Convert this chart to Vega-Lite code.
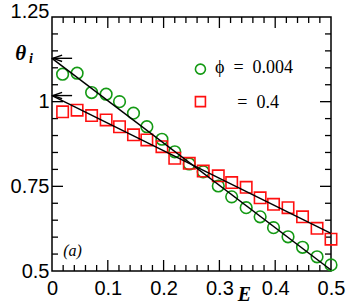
{
  "$schema": "https://vega.github.io/schema/vega-lite/v6.json",
  "width": 279,
  "height": 254,
  "autosize": {"type": "none"},
  "padding": {"left": 52, "top": 17, "right": 17, "bottom": 37},
  "background": "white",
  "config": {
    "view": {"stroke": "#000", "strokeWidth": 1.5},
    "axis": {"domain": false, "ticks": false, "grid": false, "labelFont": "Liberation Sans", "labelFontSize": 20, "labelColor": "#000"}
  },
  "datasets": {
    "pts": [
      {"phi": "0.004", "E": 0.019, "theta": 1.081}, {"phi": "0.004", "E": 0.045, "theta": 1.084},
      {"phi": "0.004", "E": 0.071, "theta": 1.027}, {"phi": "0.004", "E": 0.097, "theta": 1.022},
      {"phi": "0.004", "E": 0.121, "theta": 1.0}, {"phi": "0.004", "E": 0.146, "theta": 0.966},
      {"phi": "0.004", "E": 0.170, "theta": 0.926}, {"phi": "0.004", "E": 0.197, "theta": 0.889},
      {"phi": "0.004", "E": 0.220, "theta": 0.852}, {"phi": "0.004", "E": 0.246, "theta": 0.816},
      {"phi": "0.004", "E": 0.271, "theta": 0.793}, {"phi": "0.004", "E": 0.298, "theta": 0.751},
      {"phi": "0.004", "E": 0.322, "theta": 0.719}, {"phi": "0.004", "E": 0.348, "theta": 0.687},
      {"phi": "0.004", "E": 0.373, "theta": 0.660}, {"phi": "0.004", "E": 0.397, "theta": 0.628},
      {"phi": "0.004", "E": 0.423, "theta": 0.601}, {"phi": "0.004", "E": 0.449, "theta": 0.570},
      {"phi": "0.004", "E": 0.475, "theta": 0.542}, {"phi": "0.004", "E": 0.500, "theta": 0.518},
      {"phi": "0.4", "E": 0.019, "theta": 0.970}, {"phi": "0.4", "E": 0.045, "theta": 0.975},
      {"phi": "0.4", "E": 0.071, "theta": 0.959}, {"phi": "0.4", "E": 0.097, "theta": 0.946},
      {"phi": "0.4", "E": 0.121, "theta": 0.926}, {"phi": "0.4", "E": 0.146, "theta": 0.902},
      {"phi": "0.4", "E": 0.170, "theta": 0.887}, {"phi": "0.4", "E": 0.197, "theta": 0.867},
      {"phi": "0.4", "E": 0.220, "theta": 0.833}, {"phi": "0.4", "E": 0.246, "theta": 0.818},
      {"phi": "0.4", "E": 0.271, "theta": 0.795}, {"phi": "0.4", "E": 0.298, "theta": 0.781},
      {"phi": "0.4", "E": 0.322, "theta": 0.761}, {"phi": "0.4", "E": 0.348, "theta": 0.747},
      {"phi": "0.4", "E": 0.373, "theta": 0.716}, {"phi": "0.4", "E": 0.397, "theta": 0.697},
      {"phi": "0.4", "E": 0.423, "theta": 0.687}, {"phi": "0.4", "E": 0.449, "theta": 0.660},
      {"phi": "0.4", "E": 0.475, "theta": 0.626}, {"phi": "0.4", "E": 0.500, "theta": 0.594}
    ],
    "fits": [
      {"phi": "0.004", "E": 0.0, "theta": 1.128}, {"phi": "0.004", "E": 0.5, "theta": 0.503},
      {"phi": "0.4", "E": 0.0, "theta": 1.018}, {"phi": "0.4", "E": 0.5, "theta": 0.611}
    ],
    "arrows": [
      {"E": 0.002, "E2": 0.036, "theta": 1.128},
      {"E": 0.002, "E2": 0.036, "theta": 1.018}
    ],
    "legend": [
      {"phi": "0.004", "E": 0.266, "theta": 1.096, "label": "ϕ\u2002=\u20020.004", "tx": 0.292, "ty": 1.085},
      {"phi": "0.4", "E": 0.266, "theta": 1.0, "label": "=\u20020.4", "tx": 0.332, "ty": 0.981}
    ],
    "xmajor": [{"v": 0.1}, {"v": 0.2}, {"v": 0.3}, {"v": 0.4}],
    "xminor": [{"v": 0.02}, {"v": 0.04}, {"v": 0.06}, {"v": 0.08}, {"v": 0.12}, {"v": 0.14}, {"v": 0.16}, {"v": 0.18}, {"v": 0.22}, {"v": 0.24}, {"v": 0.26}, {"v": 0.28}, {"v": 0.32}, {"v": 0.34}, {"v": 0.36}, {"v": 0.38}, {"v": 0.42}, {"v": 0.44}, {"v": 0.46}, {"v": 0.48}],
    "ymajor": [{"v": 0.75}, {"v": 1.0}],
    "yminor": [{"v": 0.55}, {"v": 0.6}, {"v": 0.65}, {"v": 0.7}, {"v": 0.8}, {"v": 0.85}, {"v": 0.9}, {"v": 0.95}, {"v": 1.05}, {"v": 1.1}, {"v": 1.15}, {"v": 1.2}],
    "one": [{}]
  },
  "resolve": {"axis": {"x": "independent", "y": "independent"}},
  "layer": [
    {
      "data": {"name": "xmajor"},
      "mark": {"type": "point", "shape": "M0,-1L0,1", "filled": false, "stroke": "#000", "strokeWidth": 1.3, "opacity": 1, "size": 121, "yOffset": -5.5},
      "encoding": {"x": {"field": "v", "type": "quantitative", "axis": null}, "y": {"datum": 0.5, "type": "quantitative", "axis": null}}
    },
    {
      "data": {"name": "xmajor"},
      "mark": {"type": "point", "shape": "M0,-1L0,1", "filled": false, "stroke": "#000", "strokeWidth": 1.3, "opacity": 1, "size": 121, "yOffset": 5.5},
      "encoding": {"x": {"field": "v", "type": "quantitative", "axis": null}, "y": {"datum": 1.25, "type": "quantitative", "axis": null}}
    },
    {
      "data": {"name": "xminor"},
      "mark": {"type": "point", "shape": "M0,-1L0,1", "filled": false, "stroke": "#000", "strokeWidth": 1.3, "opacity": 1, "size": 36, "yOffset": -3},
      "encoding": {"x": {"field": "v", "type": "quantitative", "axis": null}, "y": {"datum": 0.5, "type": "quantitative", "axis": null}}
    },
    {
      "data": {"name": "xminor"},
      "mark": {"type": "point", "shape": "M0,-1L0,1", "filled": false, "stroke": "#000", "strokeWidth": 1.3, "opacity": 1, "size": 36, "yOffset": 3},
      "encoding": {"x": {"field": "v", "type": "quantitative", "axis": null}, "y": {"datum": 1.25, "type": "quantitative", "axis": null}}
    },
    {
      "data": {"name": "ymajor"},
      "mark": {"type": "point", "shape": "M-1,0L1,0", "filled": false, "stroke": "#000", "strokeWidth": 1.3, "opacity": 1, "size": 121, "xOffset": 5.5},
      "encoding": {"y": {"field": "v", "type": "quantitative", "axis": null}, "x": {"datum": 0, "type": "quantitative", "axis": null}}
    },
    {
      "data": {"name": "ymajor"},
      "mark": {"type": "point", "shape": "M-1,0L1,0", "filled": false, "stroke": "#000", "strokeWidth": 1.3, "opacity": 1, "size": 121, "xOffset": -5.5},
      "encoding": {"y": {"field": "v", "type": "quantitative", "axis": null}, "x": {"datum": 0.5, "type": "quantitative", "axis": null}}
    },
    {
      "data": {"name": "yminor"},
      "mark": {"type": "point", "shape": "M-1,0L1,0", "filled": false, "stroke": "#000", "strokeWidth": 1.3, "opacity": 1, "size": 36, "xOffset": 3},
      "encoding": {"y": {"field": "v", "type": "quantitative", "axis": null}, "x": {"datum": 0, "type": "quantitative", "axis": null}}
    },
    {
      "data": {"name": "yminor"},
      "mark": {"type": "point", "shape": "M-1,0L1,0", "filled": false, "stroke": "#000", "strokeWidth": 1.3, "opacity": 1, "size": 36, "xOffset": -3},
      "encoding": {"y": {"field": "v", "type": "quantitative", "axis": null}, "x": {"datum": 0.5, "type": "quantitative", "axis": null}}
    },
    {
      "data": {"name": "pts"},
      "mark": {"type": "point", "filled": false, "strokeWidth": 1.6, "opacity": 1},
      "encoding": {
        "x": {"field": "E", "type": "quantitative", "scale": {"domain": [0, 0.5], "nice": false, "zero": false},
          "axis": {"orient": "bottom", "title": "E", "values": [0, 0.1, 0.2, 0.3, 0.4, 0.5], "format": ".1~f", "labelPadding": 7, "labelFlush": false,
            "titleFont": "Liberation Serif", "titleFontStyle": "italic", "titleFontWeight": "bold", "titleFontSize": 20, "titleColor": "#000",
            "titleX": 192, "titleY": 29, "titleBaseline": "alphabetic", "titleAlign": "center"}},
        "y": {"field": "theta", "type": "quantitative", "scale": {"domain": [0.5, 1.25], "nice": false, "zero": false},
          "axis": {"orient": "left", "title": null, "values": [0.5, 0.75, 1, 1.25], "format": ".2~f", "labelPadding": 3, "labelFlush": false,
            "labelBaseline": {"condition": {"test": "datum.value > 1.2", "value": "alphabetic"}, "value": "middle"}}},
        "color": {"field": "phi", "type": "nominal", "scale": {"domain": ["0.004", "0.4"], "range": ["#149a14", "#ff1010"]}, "legend": null},
        "shape": {"field": "phi", "type": "nominal", "scale": {"domain": ["0.004", "0.4"], "range": ["circle", "square"]}, "legend": null},
        "size": {"field": "phi", "type": "nominal", "scale": {"domain": ["0.004", "0.4"], "range": [135, 130]}, "legend": null}
      }
    },
    {
      "data": {"name": "fits"},
      "mark": {"type": "line", "color": "#000", "strokeWidth": 1.5},
      "encoding": {
        "x": {"field": "E", "type": "quantitative", "axis": null},
        "y": {"field": "theta", "type": "quantitative", "axis": null},
        "detail": {"field": "phi"}
      }
    },
    {
      "data": {"name": "arrows"},
      "mark": {"type": "rule", "color": "#000", "strokeWidth": 1.4},
      "encoding": {
        "x": {"field": "E", "type": "quantitative", "axis": null},
        "x2": {"field": "E2"},
        "y": {"field": "theta", "type": "quantitative", "axis": null}
      }
    },
    {
      "data": {"name": "arrows"},
      "mark": {"type": "point", "shape": "M1,-0.7L-1,0L1,0.7", "filled": false, "stroke": "#000", "strokeWidth": 1.4, "size": 81, "opacity": 1, "xOffset": 4.5},
      "encoding": {
        "x": {"field": "E", "type": "quantitative", "axis": null},
        "y": {"field": "theta", "type": "quantitative", "axis": null}
      }
    },
    {
      "data": {"name": "legend"},
      "mark": {"type": "point", "filled": false, "strokeWidth": 1.6, "opacity": 1},
      "encoding": {
        "x": {"field": "E", "type": "quantitative", "axis": null},
        "y": {"field": "theta", "type": "quantitative", "axis": null},
        "color": {"field": "phi", "type": "nominal", "legend": null},
        "shape": {"field": "phi", "type": "nominal", "legend": null},
        "size": {"value": 100}
      }
    },
    {
      "data": {"name": "legend"},
      "mark": {"type": "text", "font": "Liberation Serif", "fontSize": 18, "align": "left", "baseline": "alphabetic", "color": "#000"},
      "encoding": {
        "x": {"field": "tx", "type": "quantitative", "axis": null},
        "y": {"field": "ty", "type": "quantitative", "axis": null},
        "text": {"field": "label"}
      }
    },
    {
      "data": {"name": "one"},
      "mark": {"type": "text", "font": "Liberation Serif", "fontStyle": "italic", "fontSize": 16, "align": "left", "baseline": "middle", "color": "#000", "text": "(a)"},
      "encoding": {
        "x": {"datum": 0.02, "type": "quantitative", "axis": null},
        "y": {"datum": 0.559, "type": "quantitative", "axis": null}
      }
    },
    {
      "data": {"name": "one"},
      "mark": {"type": "text", "font": "Liberation Serif", "fontStyle": "italic", "fontWeight": "bold", "fontSize": 21, "align": "left", "baseline": "alphabetic", "color": "#000", "text": "θ"},
      "encoding": {
        "x": {"datum": -0.066, "type": "quantitative", "axis": null},
        "y": {"datum": 1.123, "type": "quantitative", "axis": null}
      }
    },
    {
      "data": {"name": "one"},
      "mark": {"type": "text", "font": "Liberation Serif", "fontStyle": "italic", "fontWeight": "bold", "fontSize": 14, "align": "left", "baseline": "alphabetic", "color": "#000", "text": "i"},
      "encoding": {
        "x": {"datum": -0.041, "type": "quantitative", "axis": null},
        "y": {"datum": 1.113, "type": "quantitative", "axis": null}
      }
    }
  ]
}
